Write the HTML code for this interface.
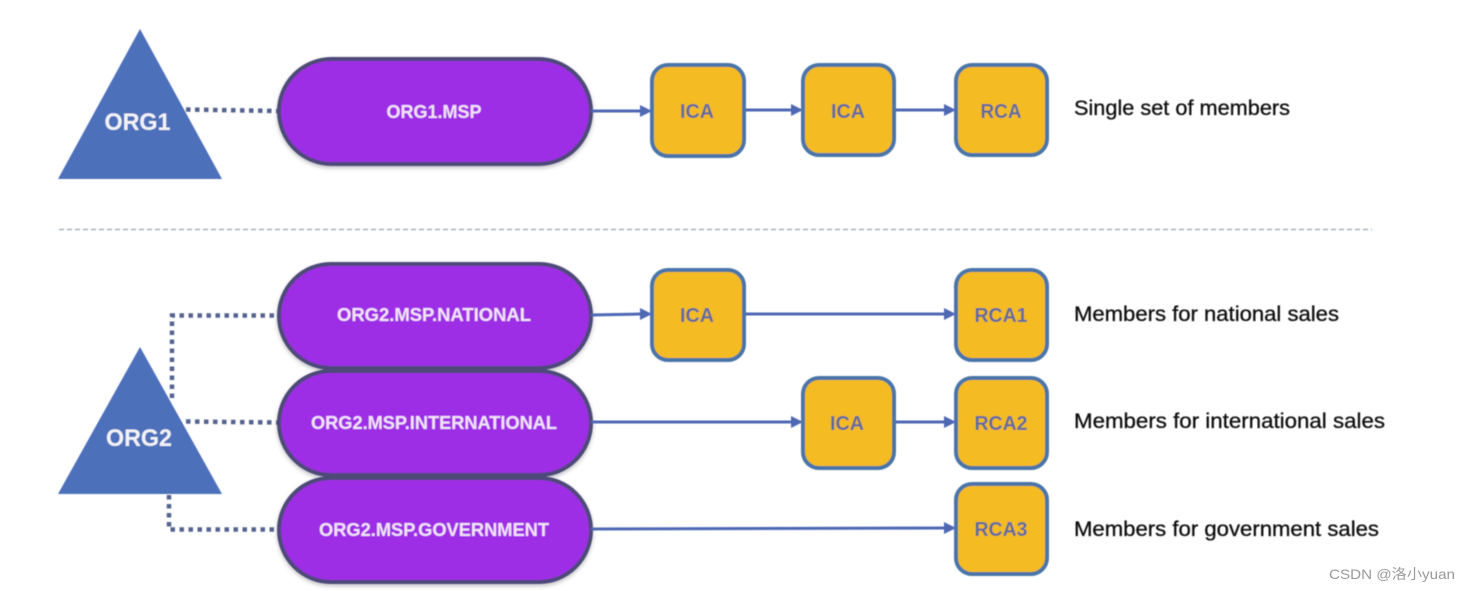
<!DOCTYPE html>
<html><head><meta charset="utf-8"><style>
html,body{margin:0;padding:0;background:#fff}
svg{display:block}
text{font-family:"Liberation Sans","Noto Sans CJK SC",sans-serif}
.p{fill:#f3e3f8;font-weight:bold;font-size:18px;text-anchor:middle}
.b{fill:#5f6b9e;font-weight:bold;font-size:20px;text-anchor:middle}
.t{fill:#111;font-size:21px;stroke:#111;stroke-width:.3px}
.o{fill:#f2f2f8;font-weight:bold;font-size:24px;text-anchor:middle}
</style></head><body>
<svg width="1469" height="591" viewBox="0 0 1469 591" xmlns="http://www.w3.org/2000/svg">
<defs>
<filter id="s" x="-5%" y="-10%" width="110%" height="125%"><feDropShadow dx="0" dy="2" stdDeviation="2" flood-color="#000" flood-opacity=".25"/></filter>
<filter id="bl" x="-5%" y="-5%" width="110%" height="110%"><feGaussianBlur stdDeviation="0.45"/></filter>
</defs>
<g filter="url(#bl)">
<line x1="59" y1="229.500" x2="1372" y2="229.500" stroke="#98a4b4" stroke-width="1.300" stroke-dasharray="5 3"/>

<g fill="none" stroke="#54648f" stroke-width="4.500" stroke-dasharray="4.500 4.500">
<path d="M186 109.500L278 111"/>
<path d="M172 398V315.500H278"/>
<path d="M186 421.500L278 422.500"/>
<path d="M169 495V529.500H278"/>
</g>

<polygon points="140,29 222,179 58,179" fill="#4d6fba"/>
<polygon points="140,347 222,494 58,494" fill="#4d6fba"/>
<text class="o" x="137.500" y="130" textLength="66" lengthAdjust="spacingAndGlyphs">ORG1</text>
<text class="o" x="139" y="446" textLength="66" lengthAdjust="spacingAndGlyphs">ORG2</text>

<g fill="#9e2de6" stroke="#4e4a78" stroke-width="4" filter="url(#s)">
<rect x="279" y="59" width="312" height="105" rx="52.500"/>
<rect x="279" y="264" width="312" height="104" rx="52"/>
<rect x="279" y="371" width="312" height="104" rx="52"/>
<rect x="279" y="478" width="312" height="104" rx="52"/>
</g>
<text class="p" x="434" y="118" textLength="95" lengthAdjust="spacingAndGlyphs">ORG1.MSP</text>
<text class="p" x="434" y="321" textLength="194" lengthAdjust="spacingAndGlyphs">ORG2.MSP.NATIONAL</text>
<text class="p" x="434" y="429" textLength="246" lengthAdjust="spacingAndGlyphs">ORG2.MSP.INTERNATIONAL</text>
<text class="p" x="434" y="536" textLength="230" lengthAdjust="spacingAndGlyphs">ORG2.MSP.GOVERNMENT</text>

<g stroke="#4f68b4" stroke-width="3" fill="none">
<path d="M591 111H642"/><path d="M744 110H793"/><path d="M895 110H946"/>
<path d="M591 315L642 314"/><path d="M744 314H946"/>
<path d="M591 422H793"/><path d="M895 422H946"/>
<path d="M591 529L946 528"/>
</g>
<g fill="#4f68b4">
<polygon points="640,105 652,111 640,117"/>
<polygon points="791,104 803,110 791,116"/>
<polygon points="944,104 956,110 944,116"/>
<polygon points="640,308 652,314 640,320"/>
<polygon points="944,308 956,314 944,320"/>
<polygon points="791,416 803,422 791,428"/>
<polygon points="944,416 956,422 944,428"/>
<polygon points="944,522 956,528 944,534"/>
</g>

<g fill="#f4bb22" stroke="#4a74a8" stroke-width="4">
<rect x="652" y="65" width="92" height="91" rx="16"/>
<rect x="803" y="65" width="91" height="90" rx="16"/>
<rect x="956" y="65" width="91" height="90" rx="16"/>
<rect x="652" y="270" width="92" height="90" rx="16"/>
<rect x="956" y="270" width="91" height="90" rx="16"/>
<rect x="803" y="378" width="91" height="90" rx="16"/>
<rect x="956" y="378" width="91" height="90" rx="16"/>
<rect x="956" y="484" width="91" height="90" rx="16"/>
</g>
<text class="b" x="697" y="118" textLength="34" lengthAdjust="spacingAndGlyphs">ICA</text>
<text class="b" x="848" y="118" textLength="34" lengthAdjust="spacingAndGlyphs">ICA</text>
<text class="b" x="1001" y="118" textLength="41" lengthAdjust="spacingAndGlyphs">RCA</text>
<text class="b" x="697" y="322" textLength="34" lengthAdjust="spacingAndGlyphs">ICA</text>
<text class="b" x="1001" y="322" textLength="53" lengthAdjust="spacingAndGlyphs">RCA1</text>
<text class="b" x="847" y="430" textLength="34" lengthAdjust="spacingAndGlyphs">ICA</text>
<text class="b" x="1001" y="430" textLength="53" lengthAdjust="spacingAndGlyphs">RCA2</text>
<text class="b" x="1001" y="536" textLength="53" lengthAdjust="spacingAndGlyphs">RCA3</text>

<text class="t" x="1074" y="115" textLength="216" lengthAdjust="spacingAndGlyphs">Single set of members</text>
<text class="t" x="1074" y="321" textLength="265" lengthAdjust="spacingAndGlyphs">Members for national sales</text>
<text class="t" x="1074" y="428" textLength="311" lengthAdjust="spacingAndGlyphs">Members for international sales</text>
<text class="t" x="1074" y="536" textLength="305" lengthAdjust="spacingAndGlyphs">Members for government sales</text>
</g>
<text x="1329" y="579" font-size="14" fill="#9a9a9a" textLength="126" lengthAdjust="spacingAndGlyphs">CSDN @洛小yuan</text>
</svg>
</body></html>
